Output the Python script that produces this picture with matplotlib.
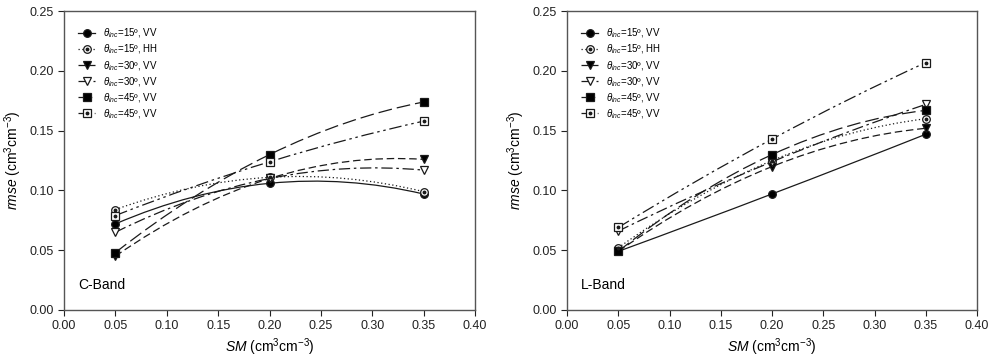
import numpy as np
import matplotlib
matplotlib.use("Agg")
import matplotlib.pyplot as plt
from matplotlib.path import Path
from matplotlib.patches import PathPatch
from matplotlib.lines import Line2D
from matplotlib.legend_handler import HandlerTuple

plt.rcParams["font.family"] = ["Liberation Sans", "DejaVu Sans"]
plt.rcParams["mathtext.fontset"] = "custom"
plt.rcParams["mathtext.rm"] = "Liberation Sans"
plt.rcParams["mathtext.it"] = "Liberation Sans:italic"

sm = [0.05, 0.20, 0.35]
labels = [
    r"$\theta_{inc}$=15º, VV",
    r"$\theta_{inc}$=15º, HH",
    r"$\theta_{inc}$=30º, VV",
    r"$\theta_{inc}$=30º, VV",
    r"$\theta_{inc}$=45º, VV",
    r"$\theta_{inc}$=45º, VV",
]

c_band = [
    [0.072, 0.106, 0.097],
    [0.084, 0.111, 0.099],
    [0.045, 0.110, 0.126],
    [0.065, 0.110, 0.117],
    [0.048, 0.130, 0.174],
    [0.079, 0.124, 0.158],
]
l_band = [
    [0.049, 0.097, 0.147],
    [0.052, 0.125, 0.160],
    [0.049, 0.120, 0.152],
    [0.066, 0.124, 0.172],
    [0.049, 0.130, 0.167],
    [0.069, 0.143, 0.207],
]

line_styles = ["-", (0, (1, 2)), (0, (6, 3)), (0, (9, 3, 2, 3)),
               (0, (11, 4)), (0, (10, 3, 2, 3, 2, 3))]
# marker, facecolor, inner dot
markers = [("o", "black", False), ("o", "white", True), ("v", "black", False),
           ("v", "white", False), ("s", "black", False), ("s", "white", True)]
ink = "#1a1a1a"
msize = 5.5


def smooth_curve(ax, x, y, ls):
    # quadratic bezier that passes through the middle point
    p0 = np.array([x[0], y[0]])
    p1 = np.array([x[1], y[1]])
    p2 = np.array([x[2], y[2]])
    ctrl = 2 * p1 - (p0 + p2) / 2
    path = Path([p0, ctrl, p2], [Path.MOVETO, Path.CURVE3, Path.CURVE3])
    ax.add_patch(PathPatch(path, fill=False, edgecolor=ink, lw=0.9,
                           linestyle=ls, transform=ax.transData))


def draw_panel(ax, data, name):
    handles = []
    for i, ys in enumerate(data):
        smooth_curve(ax, sm, ys, line_styles[i])
        m, fc, dot = markers[i]
        ax.plot(sm, ys, linestyle="none", marker=m, markersize=msize,
                markerfacecolor=fc, markeredgecolor=ink, markeredgewidth=0.9,
                zorder=3)
        h = Line2D([], [], color=ink, lw=0.9, linestyle=line_styles[i],
                   marker=m, markersize=msize, markerfacecolor=fc,
                   markeredgecolor=ink, markeredgewidth=0.9)
        if dot:
            ax.plot(sm, ys, linestyle="none", marker="o", markersize=1.8,
                    color=ink, zorder=4)
            hd = Line2D([], [], linestyle="none", marker="o", markersize=1.8,
                        color=ink)
            handles.append((h, hd))
        else:
            handles.append(h)
    ax.legend(handles, labels, handler_map={tuple: HandlerTuple(ndivide=1, pad=0)},
              loc="upper left", bbox_to_anchor=(0.01, 0.98), frameon=False,
              fontsize=7, handlelength=1.8, labelspacing=0.25, borderaxespad=0.6)
    ax.set_xlim(0, 0.40)
    ax.set_ylim(0, 0.25)
    ax.set_xticks(np.arange(0, 0.401, 0.05))
    ax.set_yticks(np.arange(0, 0.251, 0.05))
    ax.xaxis.set_major_formatter(plt.FormatStrFormatter("%.2f"))
    ax.yaxis.set_major_formatter(plt.FormatStrFormatter("%.2f"))
    ax.tick_params(direction="out", length=4, width=0.8, labelsize=9,
                   colors="#222222", top=False, right=False)
    for sp in ax.spines.values():
        sp.set_color("#555555")
        sp.set_linewidth(1.0)
    ax.set_xlabel(r"$SM$ (cm$^3$cm$^{-3}$)", fontsize=10, labelpad=3)
    ax.set_ylabel(r"$rmse$ (cm$^3$cm$^{-3}$)", fontsize=10, labelpad=4)
    if name:
        ax.text(0.035, 0.07, name, transform=ax.transAxes, fontsize=10)


fig = plt.figure(figsize=(10, 3.6), dpi=100)
ax1 = fig.add_axes([0.064, 0.139, 0.411, 0.830])
ax2 = fig.add_axes([0.567, 0.139, 0.410, 0.830])
draw_panel(ax1, c_band, "C-Band")
draw_panel(ax2, l_band, "L-Band")

fig.savefig("out.png", dpi=100)
